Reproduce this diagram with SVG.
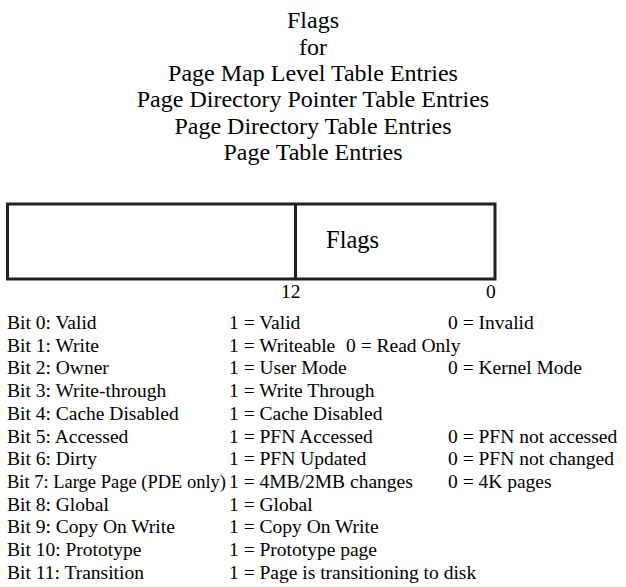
<svg xmlns="http://www.w3.org/2000/svg" width="626" height="587" viewBox="0 0 626 587">
<style>
.t{font-family:'Liberation Serif',serif;font-size:24px;text-anchor:middle}
.r{font-family:'Liberation Serif',serif;font-size:19.5px}
.f{font-family:'Liberation Serif',serif;font-size:24.5px}
.box{fill:none;stroke:#222;stroke-width:3}
</style>
<rect width="626" height="587" fill="#fff"/>
<g id="title">
<text class="t" x="313" y="28">Flags</text>
<text class="t" x="313" y="54.5">for</text>
<text class="t" x="313" y="81">Page Map Level Table Entries</text>
<text class="t" x="313" y="107">Page Directory Pointer Table Entries</text>
<text class="t" x="313" y="133.5">Page Directory Table Entries</text>
<text class="t" x="313" y="160">Page Table Entries</text>
</g>
<g id="entry">
<rect class="box" x="7.5" y="204" width="487.5" height="75"/>
<line class="box" x1="295.5" y1="204" x2="295.5" y2="279"/>
<text class="f" x="326" y="248">Flags</text>
<text class="r" x="281" y="298">12</text>
<text class="r" x="486" y="298">0</text>
</g>
<g id="bits">
<text class="r" x="7" y="329">Bit 0: Valid</text>
<text class="r" x="7" y="351.7">Bit 1: Write</text>
<text class="r" x="7" y="374.4">Bit 2: Owner</text>
<text class="r" x="7" y="397.1">Bit 3: Write-through</text>
<text class="r" x="7" y="419.8">Bit 4: Cache Disabled</text>
<text class="r" x="7" y="442.5">Bit 5: Accessed</text>
<text class="r" x="7" y="465.2">Bit 6: Dirty</text>
<text class="r" x="7" y="487.9" textLength="219" lengthAdjust="spacingAndGlyphs">Bit 7: Large Page (PDE only)</text>
<text class="r" x="7" y="510.6">Bit 8: Global</text>
<text class="r" x="7" y="533.3">Bit 9: Copy On Write</text>
<text class="r" x="7" y="556">Bit 10: Prototype</text>
<text class="r" x="7" y="578.7">Bit 11: Transition</text>
</g>
<g id="ones">
<text class="r" x="229" y="329">1 = Valid</text>
<text class="r" x="229" y="351.7">1 = Writeable</text>
<text class="r" x="229" y="374.4">1 = User Mode</text>
<text class="r" x="229" y="397.1">1 = Write Through</text>
<text class="r" x="229" y="419.8">1 = Cache Disabled</text>
<text class="r" x="229" y="442.5">1 = PFN Accessed</text>
<text class="r" x="229" y="465.2">1 = PFN Updated</text>
<text class="r" x="229" y="487.9">1 = 4MB/2MB changes</text>
<text class="r" x="229" y="510.6">1 = Global</text>
<text class="r" x="229" y="533.3">1 = Copy On Write</text>
<text class="r" x="229" y="556">1 = Prototype page</text>
<text class="r" x="229" y="578.7">1 = Page is transitioning to disk</text>
</g>
<g id="zeros">
<text class="r" x="448" y="329">0 = Invalid</text>
<text class="r" x="346" y="351.7">0 = Read Only</text>
<text class="r" x="448" y="374.4">0 = Kernel Mode</text>
<text class="r" x="448" y="442.5">0 = PFN not accessed</text>
<text class="r" x="448" y="465.2">0 = PFN not changed</text>
<text class="r" x="448" y="487.9">0 = 4K pages</text>
</g>
</svg>
